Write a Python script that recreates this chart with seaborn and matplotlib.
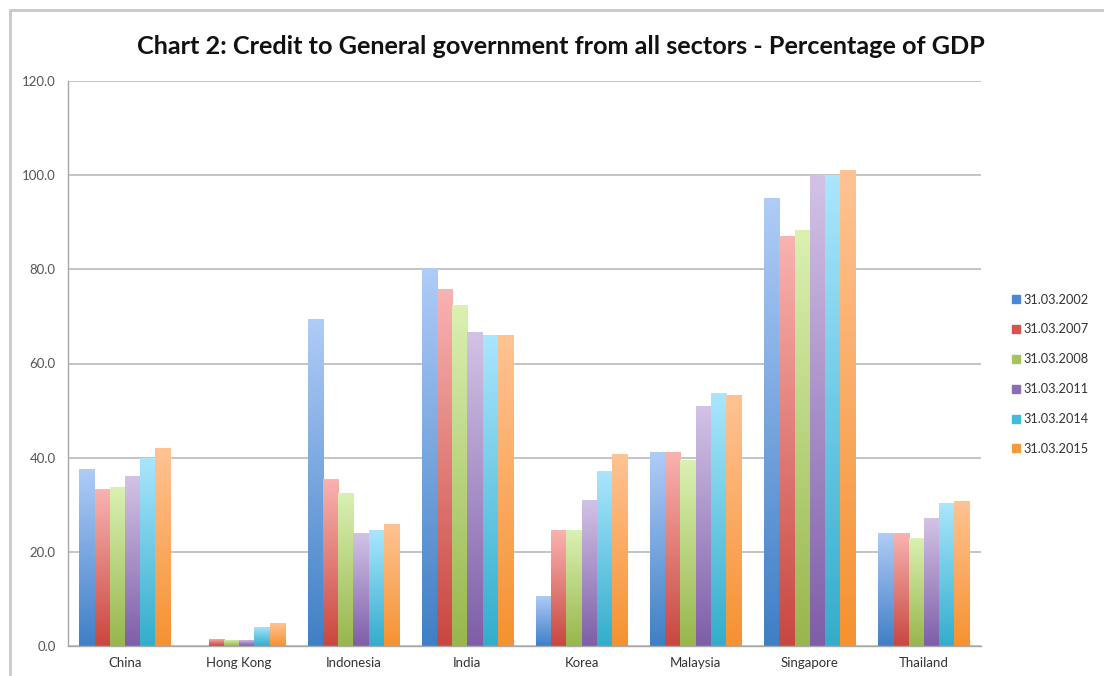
import seaborn as sns
import matplotlib.pyplot as plt
import matplotlib.colors as mcolors
from matplotlib.lines import Line2D
import pandas as pd
import numpy as np

# Data
countries = ["China", "Hong Kong", "Indonesia", "India", "Korea", "Malaysia", "Singapore", "Thailand"]
dates = ["31.03.2002", "31.03.2007", "31.03.2008", "31.03.2011", "31.03.2014", "31.03.2015"]

v2002 = [37.6, 0.0, 69.4, 80.2, 10.7, 41.1, 95.1, 23.9]
v2007 = [33.3, 1.5, 35.5, 75.8, 24.6, 41.3, 87.1, 23.9]
v2008 = [33.8, 1.3, 32.6, 72.4, 24.6, 39.5, 88.4, 23.0]
v2011 = [36.1, 1.3, 23.9, 66.7, 31.1, 51.0, 100.1, 27.1]
v2014 = [40.0, 4.1, 24.6, 66.1, 37.2, 53.7, 100.0, 30.3]
v2015 = [42.1, 4.8, 25.9, 66.1, 40.8, 53.4, 101.0, 30.9]

# gradient colours per series (top, bottom) and a mid tone for the legend
tops = ["#b0ccf7", "#f9b3b0", "#daf1b2", "#d2c3e6", "#aae6fd", "#ffc394"]
bottoms = ["#3f7fc6", "#c84740", "#98b64c", "#7e5ea8", "#33adcc", "#f59230"]
mids = ["#4a88d4", "#d55450", "#a6c45a", "#8c6cb4", "#40bcd8", "#f79a3c"]

df = pd.DataFrame({
    "Country": np.tile(countries, len(dates)),
    "Date": np.repeat(dates, len(countries)),
    "Value": np.concatenate([v2002, v2007, v2008, v2011, v2014, v2015]),
})

sns.set_style("white")
plt.rcParams["font.family"] = ["Lato", "DejaVu Sans"]

fig = plt.figure(figsize=(11.04, 6.76), dpi=100)
ax = fig.add_axes([68 / 1104, 30 / 676, 913 / 1104, 565 / 676])

sns.barplot(data=df, x="Country", y="Value", hue="Date", hue_order=dates,
            order=countries, palette=mids, width=0.8, linewidth=0,
            legend=False, ax=ax)

# replace flat fill with vertical gradient per bar
bars = list(ax.patches)
for i, p in enumerate(bars):
    s = i // len(countries)
    h = p.get_height()
    if h <= 0:
        p.set_visible(False)
        continue
    c0 = np.array(mcolors.to_rgb(bottoms[s]))
    c1 = np.array(mcolors.to_rgb(tops[s]))
    t = np.linspace(0, 1, 128)[:, None, None]
    grad = c0 + (c1 - c0) * t
    x0 = p.get_x()
    im = ax.imshow(grad, extent=[x0, x0 + p.get_width(), 0, h], origin="lower",
                   aspect="auto", zorder=2, interpolation="bilinear")
    im.set_clip_path(p)
    p.set_facecolor("none")

ax.set_xlim(-0.5, 7.5)
ax.set_ylim(0, 120)
ax.set_yticks(np.arange(0, 121, 20))
ax.set_yticklabels([f"{v:.1f}" for v in np.arange(0, 121, 20)])
ax.yaxis.grid(True, color="#c4c4c4", linewidth=1.4)
ax.set_axisbelow(True)
ax.set_xlabel("")
ax.set_ylabel("")

for side in ["top", "right"]:
    ax.spines[side].set_visible(False)
for side in ["left", "bottom"]:
    ax.spines[side].set_color("#a8a8a8")
    ax.spines[side].set_linewidth(1.0)

ax.tick_params(axis="y", length=5, color="#a8a8a8", labelsize=9.5, labelcolor="#555555", pad=4)
ax.tick_params(axis="x", which="major", length=0, labelsize=9.5, labelcolor="#333333", pad=8)
ax.set_xticks(np.arange(-0.5, 8, 1), minor=True)
ax.tick_params(axis="x", which="minor", length=5, color="#a8a8a8", direction="out")

# legend with small square markers
handles = [Line2D([], [], marker="s", linestyle="", markersize=6,
                  markerfacecolor=c, markeredgecolor=c) for c in mids]
fig.legend(handles, dates, loc="upper left", bbox_to_anchor=(998 / 1104, 1 - 282 / 676),
           frameon=False, fontsize=9.2, labelspacing=1.4, handletextpad=0.1,
           handlelength=1.0, labelcolor="#333333")

fig.text(561 / 1104, 1 - 46 / 676,
         "Chart 2: Credit to General government from all sectors - Percentage of GDP",
         ha="center", va="center", fontsize=18.2, fontweight="bold", color="#111111")

# screenshot frame lines
fig.add_artist(Line2D([10 / 1104, 1], [1 - 10 / 676, 1 - 10 / 676],
                      color="#c8c8c8", linewidth=2, transform=fig.transFigure))
fig.add_artist(Line2D([10 / 1104, 10 / 1104], [0, 1 - 10 / 676],
                      color="#c8c8c8", linewidth=2, transform=fig.transFigure))

fig.savefig("out.png", dpi=100)
plt.close(fig)
